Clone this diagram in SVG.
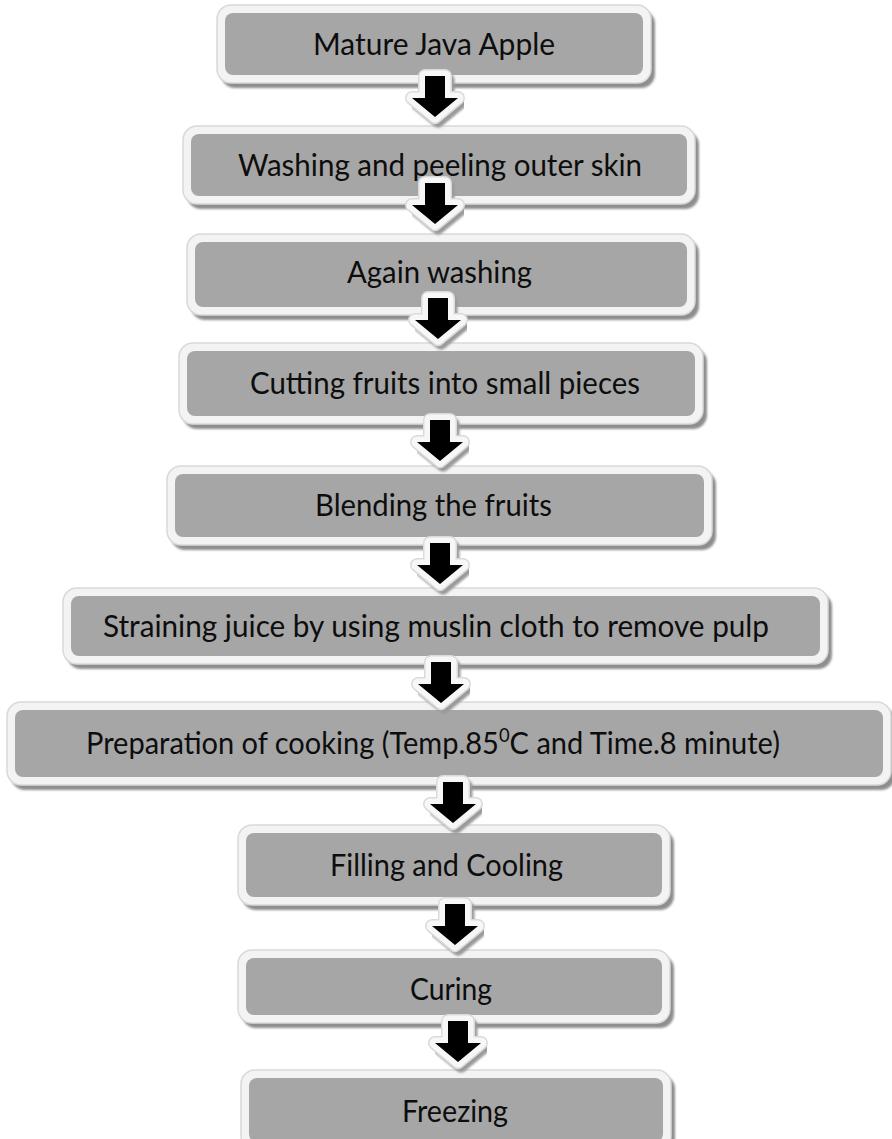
<svg xmlns="http://www.w3.org/2000/svg" xmlns:xlink="http://www.w3.org/1999/xlink" width="892" height="1139" viewBox="0 0 892 1139">
<style>
.shadow{fill:#8e8e8e;filter:url(#blur);}
.rim{fill:#f3f3f3;stroke:#d9d9d9;stroke-width:1.5;}
.core{fill:#a6a6a6;}
.lbl{font-family:Lato,"Open Sans","Liberation Sans",sans-serif;font-size:30px;fill:#0d0d0d;}
</style>
<defs>
<filter id="blur" x="-5%" y="-20%" width="110%" height="140%"><feGaussianBlur stdDeviation="1.3"/></filter>
<path id="ap" d="M-10,0 H10 V22 H23 L0,41 L-23,22 H-10 Z"/>
<g id="arrow">
<use xlink:href="#ap" transform="translate(3,4)" fill="#9a9a9a" stroke="#9a9a9a" stroke-width="13" stroke-linejoin="round" filter="url(#blur)"/>
<use xlink:href="#ap" fill="#dadada" stroke="#dadada" stroke-width="14" stroke-linejoin="round"/>
<use xlink:href="#ap" fill="#f7f7f7" stroke="#f7f7f7" stroke-width="11" stroke-linejoin="round"/>
<use xlink:href="#ap" fill="#000000"/>
</g>
</defs>
<rect width="892" height="1139" fill="#ffffff"/>

<g id="n1">
<rect class="shadow" x="221" y="10" width="434" height="78" rx="14"/>
<rect class="rim" x="217" y="5" width="434" height="78" rx="14"/>
<rect class="core" x="225" y="13" width="418" height="62" rx="8"/>
<text class="lbl" x="313" y="55" textLength="242" lengthAdjust="spacingAndGlyphs">Mature Java Apple</text>
</g>
<g id="n2">
<rect class="shadow" x="187" y="131" width="512" height="78" rx="14"/>
<rect class="rim" x="183" y="126" width="512" height="78" rx="14"/>
<rect class="core" x="191" y="134" width="496" height="62" rx="8"/>
<text class="lbl" x="238" y="176" textLength="404" lengthAdjust="spacingAndGlyphs">Washing and peeling outer skin</text>
</g>
<g id="n3">
<rect class="shadow" x="191" y="239" width="508" height="81" rx="14"/>
<rect class="rim" x="187" y="234" width="508" height="81" rx="14"/>
<rect class="core" x="195" y="242" width="492" height="65" rx="8"/>
<text class="lbl" x="347" y="283" textLength="185" lengthAdjust="spacingAndGlyphs">Again washing</text>
</g>
<g id="n4">
<rect class="shadow" x="183" y="348" width="524" height="81" rx="14"/>
<rect class="rim" x="179" y="343" width="524" height="81" rx="14"/>
<rect class="core" x="187" y="351" width="508" height="65" rx="8"/>
<text class="lbl" x="250" y="394" textLength="390" lengthAdjust="spacingAndGlyphs">Cutting fruits into small pieces</text>
</g>
<g id="n5">
<rect class="shadow" x="171" y="471" width="545" height="79" rx="14"/>
<rect class="rim" x="167" y="466" width="545" height="79" rx="14"/>
<rect class="core" x="175" y="474" width="529" height="63" rx="8"/>
<text class="lbl" x="315" y="516" textLength="237" lengthAdjust="spacingAndGlyphs">Blending the fruits</text>
</g>
<g id="n6">
<rect class="shadow" x="67" y="593" width="765" height="76" rx="14"/>
<rect class="rim" x="63" y="588" width="765" height="76" rx="14"/>
<rect class="core" x="71" y="596" width="749" height="60" rx="8"/>
<text class="lbl" x="103" y="637" textLength="666" lengthAdjust="spacingAndGlyphs">Straining juice by using muslin cloth to remove pulp</text>
</g>
<g id="n7">
<rect class="shadow" x="11" y="707" width="884" height="83" rx="14"/>
<rect class="rim" x="7" y="702" width="884" height="83" rx="14"/>
<rect class="core" x="15" y="710" width="868" height="67" rx="8"/>
<text class="lbl" x="86" y="754" textLength="694" lengthAdjust="spacingAndGlyphs">Preparation of cooking (Temp.85<tspan font-size="19" dy="-12">0</tspan><tspan dy="12">C and Time.8 minute)</tspan></text>
</g>
<g id="n8">
<rect class="shadow" x="242" y="830" width="432" height="80" rx="14"/>
<rect class="rim" x="238" y="825" width="432" height="80" rx="14"/>
<rect class="core" x="246" y="833" width="416" height="64" rx="8"/>
<text class="lbl" x="330" y="876" textLength="233" lengthAdjust="spacingAndGlyphs">Filling and Cooling</text>
</g>
<g id="n9">
<rect class="shadow" x="242" y="955" width="432" height="73" rx="14"/>
<rect class="rim" x="238" y="950" width="432" height="73" rx="14"/>
<rect class="core" x="246" y="958" width="416" height="57" rx="8"/>
<text class="lbl" x="410" y="1000" textLength="82" lengthAdjust="spacingAndGlyphs">Curing</text>
</g>
<g id="n10">
<rect class="shadow" x="245" y="1075" width="430" height="80" rx="14"/>
<rect class="rim" x="241" y="1070" width="430" height="80" rx="14"/>
<rect class="core" x="249" y="1078" width="414" height="64" rx="8"/>
<text class="lbl" x="402" y="1122" textLength="106" lengthAdjust="spacingAndGlyphs">Freezing</text>
</g>

<g id="connectors">
<use xlink:href="#arrow" transform="translate(435,76)"/>
<use xlink:href="#arrow" transform="translate(435,183)"/>
<use xlink:href="#arrow" transform="translate(438,298)"/>
<use xlink:href="#arrow" transform="translate(440,420)"/>
<use xlink:href="#arrow" transform="translate(440,543)"/>
<use xlink:href="#arrow" transform="translate(441,662)"/>
<use xlink:href="#arrow" transform="translate(453,782)"/>
<use xlink:href="#arrow" transform="translate(455,904)"/>
<use xlink:href="#arrow" transform="translate(458,1021)"/>
</g>
</svg>
